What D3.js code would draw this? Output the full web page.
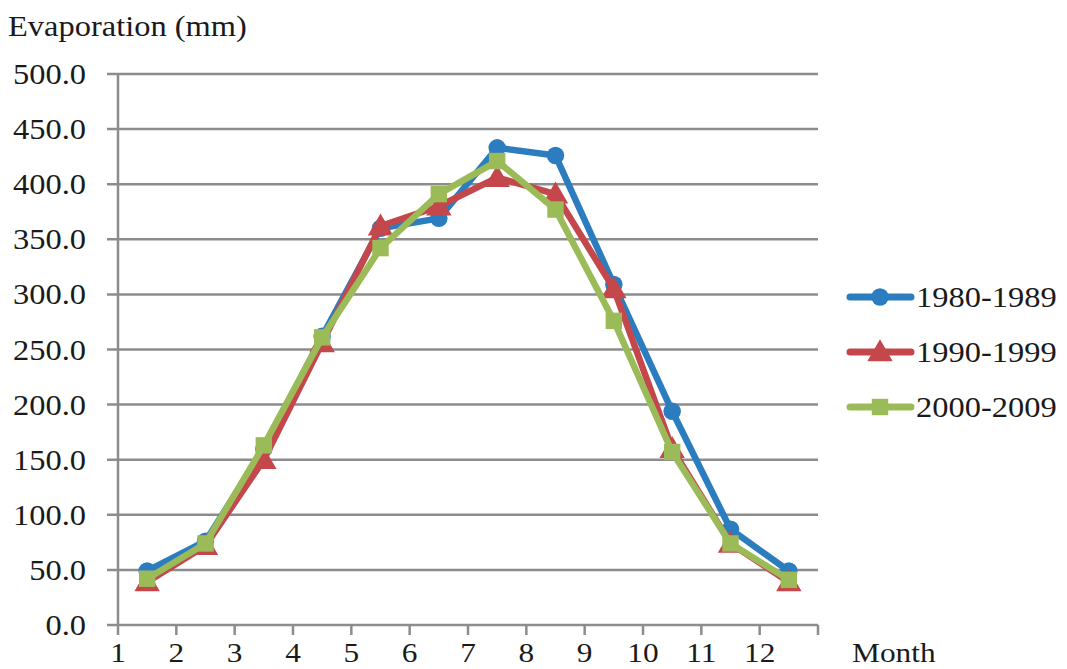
<!DOCTYPE html>
<html>
<head>
<meta charset="utf-8">
<script src="https://cdn.jsdelivr.net/npm/d3@7/dist/d3.min.js"></script>
<style>
  html, body { margin: 0; padding: 0; background: #fff; }
  svg { display: block; }
</style>
</head>
<body>
<svg id="chart" width="1067" height="669"></svg>
<script>
// Monthly evaporation (mm) by decade
const months = [1, 2, 3, 4, 5, 6, 7, 8, 9, 10, 11, 12];
const series1980 = [49, 76, 160, 262, 360, 369, 433, 426, 309, 194, 87, 49];
const series1990 = [39, 72, 150, 256, 362, 380, 406, 391, 305, 160, 74, 39];
const series2000 = [42, 74, 163, 261, 342, 391, 421, 377, 276, 157, 74, 41];
const seriesNames = ["1980-1989", "1990-1999", "2000-2009"];
const yTicks = [0, 50, 100, 150, 200, 250, 300, 350, 400, 450, 500];

const svg = d3.select("#chart");
const stretch = 1.12;   // slightly wide serif lettering
const fontSize = 29;
const serif = "'Liberation Serif', 'Times New Roman', Times, serif";

const x = d3.scaleLinear().domain([0, 12]).range([118, 818]);
const y = d3.scaleLinear().domain([0, 500]).range([625, 74]);

const gridColor = "#8c8c8c";

// horizontal gridlines with outside tick stubs
svg.append("g").selectAll("line").data(yTicks).join("line")
  .attr("x1", 107).attr("x2", x(12))
  .attr("y1", d => y(d)).attr("y2", d => y(d))
  .attr("stroke", gridColor).attr("stroke-width", 2.5);

// vertical axis
svg.append("line")
  .attr("x1", x(0)).attr("x2", x(0)).attr("y1", y(500)).attr("y2", y(0))
  .attr("stroke", gridColor).attr("stroke-width", 2.5);

// x tick marks (category boundaries)
svg.append("g").selectAll("line").data(d3.range(13)).join("line")
  .attr("x1", d => x(d)).attr("x2", d => x(d))
  .attr("y1", y(0)).attr("y2", y(0) + 10)
  .attr("stroke", gridColor).attr("stroke-width", 2.5);

function label(sel, tx, ty, anchor, size) {
  return sel.attr("text-anchor", anchor)
    .attr("font-family", serif)
    .attr("fill", "#1a1a1a")
    .attr("font-size", size || fontSize)
    .attr("transform", `translate(${tx},${ty}) scale(${stretch},1)`);
}

// y tick labels
svg.append("g").selectAll("text").data(yTicks).join("text")
  .each(function(d) { label(d3.select(this), 86, y(d) + 10, "end"); })
  .text(d => d.toFixed(1));

// x tick labels
svg.append("g").selectAll("text").data(months).join("text")
  .each(function(d, i) { label(d3.select(this), x(i), 662, "middle", 28); })
  .text(d => d);

// axis titles
label(svg.append("text"), 8, 36, "start").text("Evaporation (mm)");
label(svg.append("text"), 852, 662, "start", 28).text("Month");

const colors = ["#2b7dc0", "#c4484b", "#9bbb59"];
const shapes = [d3.symbolCircle, d3.symbolTriangle, d3.symbolSquare];
const symSizes = [240, 280, 270];
const allSeries = [series1980, series1990, series2000];

const line = d3.line().x((d, i) => x(i + 0.5)).y(d => y(d));

allSeries.forEach((vals, k) => {
  const g = svg.append("g");
  g.append("path").datum(vals)
    .attr("d", line)
    .attr("fill", "none")
    .attr("stroke", colors[k])
    .attr("stroke-width", 6.5)
    .attr("stroke-linejoin", "round");
  g.selectAll("path.m").data(vals).join("path")
    .attr("class", "m")
    .attr("d", d3.symbol().type(shapes[k]).size(symSizes[k]))
    .attr("transform", (d, i) => `translate(${x(i + 0.5)},${y(d) + (k === 1 ? 2 : 0)})`)
    .attr("fill", colors[k]);
});

// legend
const legendY = [297, 352, 407];
seriesNames.forEach((name, k) => {
  const g = svg.append("g");
  g.append("line")
    .attr("x1", 850).attr("x2", 911)
    .attr("y1", legendY[k]).attr("y2", legendY[k])
    .attr("stroke", colors[k]).attr("stroke-width", 7)
    .attr("stroke-linecap", "round");
  g.append("path")
    .attr("d", d3.symbol().type(shapes[k]).size(symSizes[k]))
    .attr("transform", `translate(880,${legendY[k] + (k === 1 ? 2 : 0)})`)
    .attr("fill", colors[k]);
  label(g.append("text"), 916, legendY[k] + 10, "start").text(name);
});
</script>
</body>
</html>
